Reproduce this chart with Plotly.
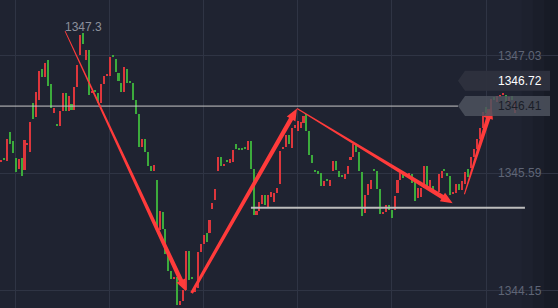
import math
import plotly.graph_objects as go

# ---------------- data ----------------
opens = [
    1345.73, 1345.77, 1345.74, 1346.09, 1345.98, 1345.77, 1345.64, 1345.77, 1345.63, 1345.93,
    1345.85, 1346.45, 1346.28, 1346.49, 1346.86, 1346.77, 1346.98, 1346.68, 1346.33, 1346.19,
    1346.17, 1346.35, 1346.57, 1346.35, 1346.44, 1346.36, 1346.64, 1347.04, 1347.31, 1346.98,
    1347.10, 1346.57, 1346.61, 1346.57, 1346.45, 1346.68, 1346.78, 1346.78, 1347.04, 1346.99,
    1346.82, 1346.69, 1346.58, 1346.86, 1346.72, 1346.69, 1346.49, 1346.31, 1345.91, 1346.01,
    1345.85, 1345.68, 1345.61, 1345.50, 1344.89, 1345.11, 1344.90, 1344.60, 1344.39, 1344.29,
    1344.32, 1343.97, 1344.02, 1344.16, 1344.63, 1344.32, 1344.13, 1344.18, 1344.62, 1344.72,
    1344.85, 1344.85, 1345.15, 1345.26, 1345.61, 1345.79, 1345.68, 1345.75, 1345.71, 1345.73,
    1345.95, 1345.90, 1345.90, 1345.91, 1345.87, 1345.98, 1345.64, 1345.08, 1345.12, 1345.21,
    1345.32, 1345.17, 1345.30, 1345.24, 1345.35, 1345.46, 1345.88, 1345.91, 1346.06, 1345.90,
    1346.14, 1346.11, 1346.14, 1346.20, 1346.31, 1346.11, 1345.81, 1345.63, 1345.61, 1345.59,
    1345.43, 1345.52, 1345.43, 1345.61, 1345.74, 1345.61, 1345.57, 1345.52, 1345.58, 1345.75,
    1345.79, 1345.95, 1345.85, 1345.60, 1345.10, 1345.32, 1345.39, 1345.64, 1345.61, 1345.39,
    1345.09, 1345.11, 1345.20, 1345.14, 1345.14, 1345.35, 1345.50, 1345.59, 1345.58, 1345.53,
    1345.58, 1345.48, 1345.28, 1345.30, 1345.41, 1345.68, 1345.41, 1345.43, 1345.35, 1345.36,
    1345.53, 1345.64, 1345.59, 1345.55, 1345.33, 1345.35, 1345.46, 1345.38, 1345.46, 1345.64,
    1345.65, 1345.79, 1345.88, 1346.01, 1346.14, 1346.40, 1346.33, 1346.36, 1346.52, 1346.46,
    1346.52, 1346.55, 1346.55, 1346.45, 1346.53, 1346.33,
]
closes = [
    1345.75, 1345.75, 1346.01, 1345.95, 1345.84, 1345.60, 1345.76, 1345.55, 1345.99, 1345.96,
    1346.22, 1346.25, 1346.58, 1346.84, 1346.77, 1346.94, 1346.66, 1346.39, 1346.39, 1346.17,
    1346.35, 1346.57, 1346.35, 1346.53, 1346.36, 1346.64, 1346.91, 1347.28, 1347.17, 1347.10,
    1346.55, 1346.60, 1346.58, 1346.45, 1346.68, 1346.78, 1346.80, 1347.01, 1347.01, 1346.83,
    1346.72, 1346.58, 1346.89, 1346.69, 1346.69, 1346.49, 1346.31, 1345.91, 1346.01, 1345.85,
    1345.68, 1345.61, 1345.69, 1344.89, 1345.12, 1344.90, 1344.60, 1344.39, 1344.29, 1344.32,
    1343.97, 1344.02, 1344.16, 1344.63, 1344.28, 1344.29, 1344.18, 1344.62, 1344.72, 1344.83,
    1344.74, 1345.01, 1345.22, 1345.39, 1345.79, 1345.68, 1345.70, 1345.73, 1345.76, 1345.87,
    1345.88, 1345.87, 1345.87, 1345.88, 1345.98, 1345.64, 1345.08, 1345.12, 1345.23, 1345.32,
    1345.20, 1345.32, 1345.36, 1345.35, 1345.41, 1345.86, 1345.91, 1346.06, 1345.95, 1346.14,
    1346.18, 1346.23, 1346.22, 1346.29, 1346.11, 1345.81, 1345.71, 1345.60, 1345.59, 1345.43,
    1345.49, 1345.49, 1345.50, 1345.74, 1345.63, 1345.54, 1345.54, 1345.58, 1345.68, 1345.79,
    1345.95, 1345.85, 1345.61, 1345.06, 1345.32, 1345.46, 1345.50, 1345.61, 1345.39, 1345.09,
    1345.11, 1345.20, 1345.14, 1345.04, 1345.31, 1345.50, 1345.59, 1345.53, 1345.55, 1345.59,
    1345.47, 1345.25, 1345.41, 1345.41, 1345.68, 1345.42, 1345.50, 1345.36, 1345.36, 1345.58,
    1345.61, 1345.61, 1345.55, 1345.32, 1345.36, 1345.46, 1345.38, 1345.49, 1345.60, 1345.54,
    1345.79, 1345.88, 1346.01, 1346.14, 1346.34, 1346.33, 1346.37, 1346.50, 1346.49, 1346.53,
    1346.55, 1346.57, 1346.46, 1346.52, 1346.49, 1346.47,
]
idx = list(range(len(opens)))

grid_prices = [1344.15, 1345.59, 1347.03]
grid_labels = ["1344.15", "1345.59", "1347.03"]

high_index = 21.8
high_price = 1347.33
high_label = "1347.3"

ask_price = 1346.72
ask_label = "1346.72"
bid_price = 1346.41
bid_label = "1346.41"

support_price = 1345.165
support_from = 85.1
support_to = 178.4

arrow_x0 = [21.8, 64.9, 100.8, 157.8]
arrow_y0 = [1347.33, 1344.12, 1346.38, 1345.33]
arrow_x1 = [63.0, 100.8, 153.8, 167.1]
arrow_y1 = [1344.14, 1346.38, 1345.22, 1346.40]
arrow_start_w = [0.8, 3.0, 1.0, 1.0]

# ---------------- layout constants ----------------
W, H = 558, 308
XR = [-0.34, 189.66]
YR = [1343.936, 1347.710]
BG = "#1f2331"
GRID = "#2f3444"
UP = "#dd363c"
DOWN = "#3cab3c"
ARROW = "#ff3b3b"

sx = W / (XR[1] - XR[0])
sy = H / (YR[1] - YR[0])

base = [min(o, c) for o, c in zip(opens, closes)]
height = [max(abs(c - o), 0.015) for o, c in zip(opens, closes)]
colors = [UP if c >= o else DOWN for o, c in zip(opens, closes)]

fig = go.Figure()
fig.add_trace(go.Bar(
    x=idx, y=height, base=base, width=0.7,
    marker=dict(color=colors, line=dict(width=0)),
    hoverinfo="skip", showlegend=False,
))


def arrow_path(x0, y0, x1, y1, w0, w1=4.5, hl=12.0, hw=10.0):
    X0, Y0, X1, Y1 = x0 * sx, y0 * sy, x1 * sx, y1 * sy
    dx, dy = X1 - X0, Y1 - Y0
    L = math.hypot(dx, dy)
    ux, uy = dx / L, dy / L
    nx, ny = -uy, ux
    bx, by = X1 - ux * hl, Y1 - uy * hl
    pts = [
        (X0 + nx * w0 / 2, Y0 + ny * w0 / 2),
        (bx + nx * w1 / 2, by + ny * w1 / 2),
        (bx + nx * hw / 2, by + ny * hw / 2),
        (X1, Y1),
        (bx - nx * hw / 2, by - ny * hw / 2),
        (bx - nx * w1 / 2, by - ny * w1 / 2),
        (X0 - nx * w0 / 2, Y0 - ny * w0 / 2),
    ]
    d = "M " + " L ".join(f"{px / sx:.4f},{py / sy:.5f}" for px, py in pts) + " Z"
    return d


shapes = []
# right side darkening
for x0, a in [(0.935, 0.05), (0.955, 0.07), (0.975, 0.08)]:
    shapes.append(dict(type="rect", xref="paper", yref="paper", x0=x0, x1=1, y0=0, y1=1,
                       fillcolor=f"rgba(0,0,0,{a})", line=dict(width=0), layer="below"))

# level lines
shapes.append(dict(type="line", xref="x", yref="y", x0=XR[0], x1=155.6, y0=bid_price, y1=bid_price,
                   line=dict(color="#c8c8c8", width=1), layer="above"))
shapes.append(dict(type="line", xref="x", yref="y", x0=support_from, x1=support_to,
                   y0=support_price, y1=support_price,
                   line=dict(color="#bdbdbd", width=2), layer="above"))

# arrows
for x0, y0, x1, y1, w0 in zip(arrow_x0, arrow_y0, arrow_x1, arrow_y1, arrow_start_w):
    shapes.append(dict(type="path", xref="x", yref="y", path=arrow_path(x0, y0, x1, y1, w0),
                       fillcolor=ARROW, line=dict(width=0), layer="above"))

# price tag boxes
half = 10.0 / sy
tip, left, right = 458 / W, 465 / W, 550 / W


def tag(price, fill):
    return dict(type="path", xref="paper", yref="y",
                path=(f"M {tip},{price} L {left},{price + half} L {right},{price + half} "
                      f"L {right},{price - half} L {left},{price - half} Z"),
                fillcolor=fill, line=dict(width=0), layer="above")


shapes.append(tag(ask_price, "rgba(46,50,62,0.95)"))
shapes.append(tag(bid_price, "rgba(78,82,94,0.85)"))

annotations = []
for p, t in zip(grid_prices, grid_labels):
    annotations.append(dict(xref="paper", yref="y", x=544 / W, y=p, text=t, showarrow=False,
                            xanchor="right", yanchor="middle",
                            font=dict(family="Arial", size=12, color="#5f6576")))
annotations.append(dict(xref="paper", yref="y", x=544 / W, y=ask_price, text=ask_label, showarrow=False,
                        xanchor="right", yanchor="middle",
                        font=dict(family="Arial", size=12, color="#ffffff")))
annotations.append(dict(xref="paper", yref="y", x=544 / W, y=bid_price, text=bid_label, showarrow=False,
                        xanchor="right", yanchor="middle",
                        font=dict(family="Arial", size=12, color="#1b1e28")))
annotations.append(dict(xref="x", yref="y", x=high_index, y=high_price, text=high_label, showarrow=False,
                        xanchor="left", yanchor="bottom", yshift=-4, xshift=-1, borderpad=0,
                        font=dict(family="Arial", size=12, color="#8c909b")))

fig.update_layout(
    width=W, height=H,
    margin=dict(l=0, r=0, t=0, b=0, pad=0),
    paper_bgcolor=BG, plot_bgcolor=BG,
    showlegend=False,
    bargap=0,
    shapes=shapes,
    annotations=annotations,
    xaxis=dict(range=XR, tickmode="linear", tick0=4.77, dtick=32.08, showgrid=True,
               gridcolor=GRID, gridwidth=1, showticklabels=False, zeroline=False,
               showline=False, ticks="", fixedrange=True),
    yaxis=dict(range=YR, tickmode="array", tickvals=grid_prices, showgrid=True,
               gridcolor=GRID, gridwidth=1, showticklabels=False, zeroline=False,
               showline=False, ticks="", fixedrange=True),
)

fig.write_html("out.html", config={"displayModeBar": False})
